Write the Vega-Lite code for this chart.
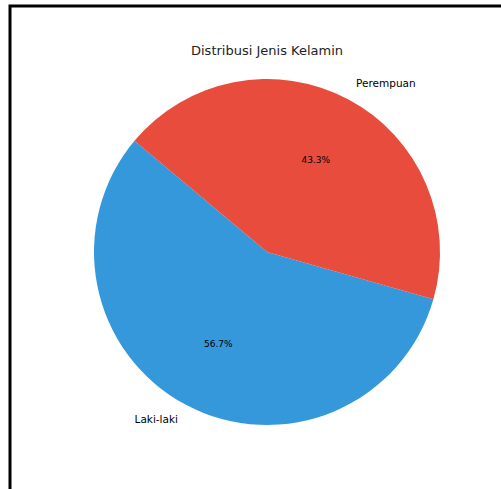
{
  "$schema": "https://vega.github.io/schema/vega-lite/v6.json",
  "autosize": {"type": "none"},
  "padding": {"left": 10, "top": 6, "right": 0, "bottom": 0},
  "width": 514,
  "height": 492,
  "background": "white",
  "view": {"stroke": "black", "strokeWidth": 3, "fill": "white", "strokeDash": [514, 1006, 492]},
  "config": {
    "font": "DejaVu Sans"
  },
  "title": {
    "text": "Distribusi Jenis Kelamin",
    "anchor": "middle",
    "frame": "group",
    "offset": -52,
    "fontSize": 13,
    "fontWeight": "normal",
    "color": "#222222",
    "font": "DejaVu Sans"
  },
  "data": {
    "values": [
      {"jenis": "Laki-laki", "persen": 0.567},
      {"jenis": "Perempuan", "persen": 0.433}
    ]
  },
  "encoding": {
    "theta": {"field": "persen", "type": "quantitative", "stack": true, "scale": {"range": [5.41052, 11.69371]}},
    "order": {"field": "persen", "type": "quantitative", "sort": "ascending"}
  },
  "layer": [
    {
      "mark": {"type": "arc", "outerRadius": 173},
      "encoding": {
        "color": {
          "field": "jenis",
          "type": "nominal",
          "scale": {"domain": ["Laki-laki", "Perempuan"], "range": ["#3498db", "#e74c3c"]},
          "legend": null
        }
      }
    },
    {
      "mark": {"type": "text", "radius": 104, "fontSize": 9, "color": "black"},
      "encoding": {
        "text": {"field": "persen", "type": "quantitative", "format": ".1%"}
      }
    },
    {
      "mark": {"type": "text", "radius": 190, "fontSize": 10.5, "color": "black", "align": "left"},
      "encoding": {
        "text": {"condition": {"test": "datum.jenis === 'Perempuan'", "field": "jenis"}, "value": ""}
      }
    },
    {
      "mark": {"type": "text", "radius": 190, "fontSize": 10.5, "color": "black", "align": "right"},
      "encoding": {
        "text": {"condition": {"test": "datum.jenis === 'Laki-laki'", "field": "jenis"}, "value": ""}
      }
    }
  ]
}
